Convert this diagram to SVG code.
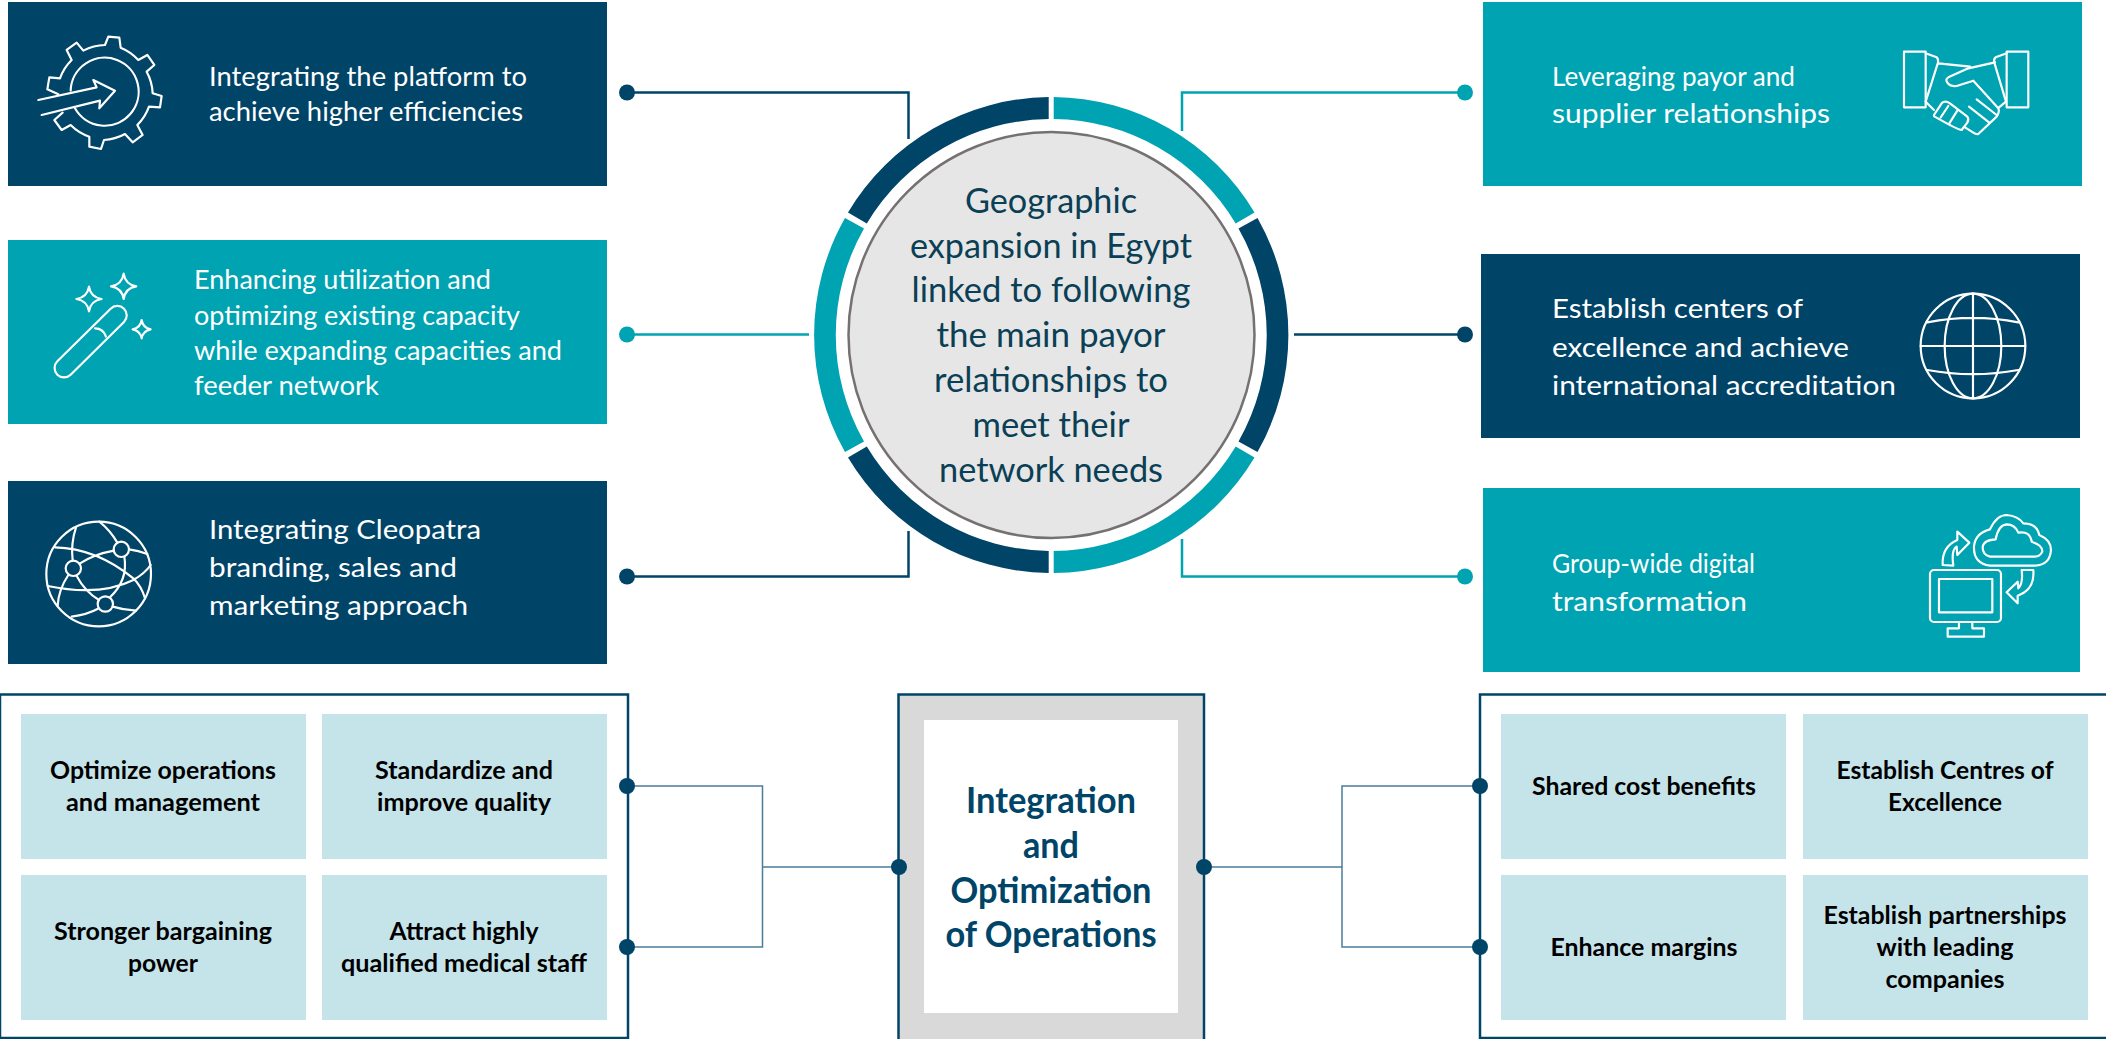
<svg xmlns="http://www.w3.org/2000/svg" width="2106" height="1039" viewBox="0 0 2106 1039">
<style>
text{font-family:"Lato","Liberation Sans",sans-serif}
.d{fill:#004468}.t{fill:#00A3B1}.l{fill:#C5E4EA}
.w{fill:#fff;font-size:27.5px}
.b{fill:#000;font-size:25px;font-weight:700;text-anchor:middle}
.c{fill:#0A3F55;font-size:35px;text-anchor:middle}
.h{fill:#004468;font-size:36px;font-weight:700;text-anchor:middle}
.i{fill:none;stroke:#fff;stroke-width:6.5;stroke-linejoin:round;stroke-linecap:round}
.cd{fill:none;stroke:#004468;stroke-width:2.5}
.ct{fill:none;stroke:#00A3B1;stroke-width:2.5}
.cb{fill:none;stroke:#4A7D9A;stroke-width:1.5}
.p{fill:#fff;stroke:#004468;stroke-width:2.5}
</style>
<g id="connectors">
<path class="cd" d="M627 92.5H908.5V139"/>
<path class="cd" d="M627 576.5H908.5V531"/>
<path class="ct" d="M627 334.5H809"/>
<path class="cd" d="M1294 334.5H1465"/>
<path class="ct" d="M1465 92.5H1182V131"/>
<path class="ct" d="M1465 576.5H1182V539"/>
</g>
<g id="node-platform">
<rect class="d" x="8" y="2" width="599" height="184"/>
<g class="i" transform="scale(.3333)">
<path d="M175 283L142 268L148 232L180 235A145 145 0 0 1 215 180L200 150L230 128L250 152A145 145 0 0 1 315 135L325 110L358 113L362 143A145 145 0 0 1 415 180L442 165L463 195L440 215A145 145 0 0 1 458 280L485 288L480 322L447 320A145 145 0 0 1 412 375L428 405L398 427L375 402A145 145 0 0 1 312 420L303 447L268 440L268 410A145 145 0 0 1 212 375L185 390L163 360L188 338"/>
<path d="M212 272A102 102 0 1 1 225 325"/>
<path d="M115 300L290 262L280 240L345 272L298 325L300 302L125 345"/>
</g>
<text class="w" x="209" y="86" textLength="318" lengthAdjust="spacingAndGlyphs">Integrating the platform to</text>
<text class="w" x="209" y="121" textLength="314" lengthAdjust="spacingAndGlyphs">achieve higher efficiencies</text>
</g>
<g id="node-utilization">
<rect class="t" x="8" y="240" width="599" height="184"/>
<g class="i" transform="translate(0 240) scale(.3333)">
<path d="M172 364L332 206A28 28 0 0 1 372 246L212 404A28 28 0 0 1 172 364Z"/>
<path d="M285 265Q310 265 318 290"/>
<path d="M267 140Q272 172 305 177Q272 182 267 214Q262 182 229 177Q262 172 267 140Z"/>
<path d="M371 101Q376 134 409 139Q376 144 371 177Q366 144 333 139Q366 134 371 101Z"/>
<path d="M425 240Q429 264 452 268Q429 272 425 295Q421 272 398 268Q421 264 425 240Z"/>
</g>
<text class="w" x="194" y="289" textLength="297" lengthAdjust="spacingAndGlyphs">Enhancing utilization and</text>
<text class="w" x="194" y="325" textLength="326" lengthAdjust="spacingAndGlyphs">optimizing existing capacity</text>
<text class="w" x="194" y="360" textLength="368" lengthAdjust="spacingAndGlyphs">while expanding capacities and</text>
<text class="w" x="194" y="395" textLength="185" lengthAdjust="spacingAndGlyphs">feeder network</text>
</g>
<g id="node-branding">
<rect class="d" x="8" y="481" width="599" height="183"/>
<g class="i" transform="translate(0 480) scale(.3333)">
<circle cx="296" cy="282" r="157"/>
<circle cx="364" cy="208" r="23"/><circle cx="220" cy="265" r="23"/><circle cx="316" cy="372" r="23"/>
<path d="M298 125Q330 150 352 188M228 142Q212 190 218 242M165 202Q290 205 400 295Q425 320 435 355M387 208Q415 212 442 222M342 212Q285 222 240 250M373 230Q385 300 330 352M230 288Q255 335 297 360M205 285Q175 330 173 378M143 318Q300 350 400 300Q435 280 452 255M215 410Q260 405 297 385M338 380Q370 390 408 392"/>
</g>
<text class="w" x="209" y="539" textLength="272" lengthAdjust="spacingAndGlyphs">Integrating Cleopatra</text>
<text class="w" x="209" y="577" textLength="248" lengthAdjust="spacingAndGlyphs">branding, sales and</text>
<text class="w" x="209" y="615" textLength="259" lengthAdjust="spacingAndGlyphs">marketing approach</text>
</g>
<g id="node-payor">
<rect class="t" x="1483" y="2" width="599" height="184"/>
<g class="i" transform="translate(1850 20) scale(.3333)">
<rect x="162" y="95" width="65" height="167"/><rect x="470" y="95" width="65" height="167"/>
<path d="M227 100L260 112Q266 118 264 128L227 245L252 270M470 100L437 112Q430 118 433 128L468 245L447 262M265 130L360 140"/>
<path d="M435 127L355 145L295 172Q285 178 292 188Q300 200 320 198L370 182L445 265Q450 275 440 290L385 342Q380 345 370 338L345 322"/>
<path d="M252 285L275 250Q285 240 300 250L352 290Q358 298 352 308L335 330Q325 330 258 292Q250 290 252 285Z"/>
<path d="M295 258L272 292M322 272L298 310M380 238L440 285M357 260L418 308"/>
</g>
<text class="w" x="1552" y="86" textLength="243" lengthAdjust="spacingAndGlyphs">Leveraging payor and</text>
<text class="w" x="1552" y="123" textLength="278" lengthAdjust="spacingAndGlyphs">supplier relationships</text>
</g>
<g id="node-centers">
<rect class="d" x="1481" y="254" width="599" height="184"/>
<g class="i" transform="translate(1850 270) scale(.3333)">
<circle cx="369" cy="228" r="157"/>
<ellipse cx="369" cy="228" rx="85" ry="157"/>
<path d="M369 71V385M212 228H526M232 157Q369 130 505 157M232 300Q369 325 505 300"/>
</g>
<text class="w" x="1552" y="318" textLength="251" lengthAdjust="spacingAndGlyphs">Establish centers of</text>
<text class="w" x="1552" y="357" textLength="297" lengthAdjust="spacingAndGlyphs">excellence and achieve</text>
<text class="w" x="1552" y="395" textLength="344" lengthAdjust="spacingAndGlyphs">international accreditation</text>
</g>
<g id="node-digital">
<rect class="t" x="1483" y="488" width="597" height="184"/>
<g class="i" transform="translate(1850 490) scale(.3333)">
<rect x="240" y="240" width="213" height="156" rx="12"/>
<rect x="267" y="267" width="160" height="100"/>
<path d="M327 396V415H293V440H402V415H367V396"/>
<path d="M420 118Q440 75 470 75Q505 78 520 100Q560 100 568 135Q603 150 603 180Q600 225 555 227H420Q370 220 372 170Q375 130 420 118Z"/>
<path d="M437 148Q445 105 470 103Q495 103 505 128Q540 122 545 155Q578 165 577 185Q570 200 555 200H420Q398 195 398 172Q400 150 437 148Z"/>
<path d="M278 225Q275 170 322 150L322 125L358 158L322 195L320 170Q303 180 310 227Z"/>
<path d="M550 240Q555 300 503 317L503 340L470 307L503 275L505 295Q520 280 515 240Z"/>
</g>
<text class="w" x="1552" y="573" textLength="203" lengthAdjust="spacingAndGlyphs">Group-wide digital</text>
<text class="w" x="1552" y="611" textLength="195" lengthAdjust="spacingAndGlyphs">transformation</text>
</g>
<g id="node-center">
<path class="d" d="M1048.7 97A237 237 0 0 0 848 212.5L866.8 223.5A215 215 0 0 1 1048.7 119Z"/>
<path class="t" d="M1053.7 97A237 237 0 0 1 1254.5 212.5L1235.7 223.5A215 215 0 0 0 1053.7 119Z"/>
<path class="t" d="M845 218A237 237 0 0 0 845 452L864 441.5A215 215 0 0 1 864 228.5Z"/>
<path class="d" d="M1257.5 218A237 237 0 0 1 1257.5 452L1238.5 441.5A215 215 0 0 0 1238.5 228.5Z"/>
<path class="d" d="M1048.7 573A237 237 0 0 1 848 457.5L866.8 446.5A215 215 0 0 0 1048.7 551Z"/>
<path class="t" d="M1053.7 573A237 237 0 0 0 1254.5 457.5L1235.7 446.5A215 215 0 0 1 1053.7 551Z"/>
<circle cx="1051.5" cy="335" r="203" fill="#E6E6E6" stroke="#767171" stroke-width="2.5"/>
<text class="c" x="1051" y="213" textLength="172" lengthAdjust="spacingAndGlyphs">Geographic</text>
<text class="c" x="1051" y="258" textLength="282" lengthAdjust="spacingAndGlyphs">expansion in Egypt</text>
<text class="c" x="1051" y="302" textLength="279" lengthAdjust="spacingAndGlyphs">linked to following</text>
<text class="c" x="1051" y="347" textLength="229" lengthAdjust="spacingAndGlyphs">the main payor</text>
<text class="c" x="1051" y="392" textLength="234" lengthAdjust="spacingAndGlyphs">relationships to</text>
<text class="c" x="1051" y="437" textLength="157" lengthAdjust="spacingAndGlyphs">meet their</text>
<text class="c" x="1051" y="482" textLength="224" lengthAdjust="spacingAndGlyphs">network needs</text>
</g>
<g id="bottom-connectors">
<path class="cb" d="M627 786H762.5V947H627M762.5 867H899"/>
<path class="cb" d="M1480 786H1342V947H1480M1342 867H1204"/>
</g>
<g id="node-left-panel">
<rect class="p" x="0" y="694.5" width="628" height="343.5"/>
<rect class="l" x="21" y="714" width="285" height="145"/>
<rect class="l" x="322" y="714" width="285" height="145"/>
<rect class="l" x="21" y="875" width="285" height="145"/>
<rect class="l" x="322" y="875" width="285" height="145"/>
<text class="b" x="163" y="779" textLength="226" lengthAdjust="spacingAndGlyphs">Optimize operations</text>
<text class="b" x="163" y="811" textLength="194" lengthAdjust="spacingAndGlyphs">and management</text>
<text class="b" x="464" y="779" textLength="178" lengthAdjust="spacingAndGlyphs">Standardize and</text>
<text class="b" x="464" y="811" textLength="174" lengthAdjust="spacingAndGlyphs">improve quality</text>
<text class="b" x="163" y="940" textLength="218" lengthAdjust="spacingAndGlyphs">Stronger bargaining</text>
<text class="b" x="163" y="972" textLength="70" lengthAdjust="spacingAndGlyphs">power</text>
<text class="b" x="464" y="940" textLength="149" lengthAdjust="spacingAndGlyphs">Attract highly</text>
<text class="b" x="464" y="972" textLength="246" lengthAdjust="spacingAndGlyphs">qualified medical staff</text>
</g>
<g id="node-integration">
<rect x="898.5" y="694.5" width="305.5" height="350" fill="#D9D9D9" stroke="#004468" stroke-width="2.5"/>
<rect x="924" y="720" width="254" height="293" fill="#fff"/>
<text class="h" x="1051" y="813" textLength="170" lengthAdjust="spacingAndGlyphs">Integration</text>
<text class="h" x="1051" y="858" textLength="56" lengthAdjust="spacingAndGlyphs">and</text>
<text class="h" x="1051" y="903" textLength="201" lengthAdjust="spacingAndGlyphs">Optimization</text>
<text class="h" x="1051" y="947" textLength="211" lengthAdjust="spacingAndGlyphs">of Operations</text>
</g>
<g id="node-right-panel">
<rect class="p" x="1480" y="694.5" width="640" height="343.5"/>
<rect class="l" x="1501" y="714" width="285" height="145"/>
<rect class="l" x="1803" y="714" width="285" height="145"/>
<rect class="l" x="1501" y="875" width="285" height="145"/>
<rect class="l" x="1803" y="875" width="285" height="145"/>
<text class="b" x="1644" y="795" textLength="224" lengthAdjust="spacingAndGlyphs">Shared cost benefits</text>
<text class="b" x="1945" y="779" textLength="217" lengthAdjust="spacingAndGlyphs">Establish Centres of</text>
<text class="b" x="1945" y="811" textLength="114" lengthAdjust="spacingAndGlyphs">Excellence</text>
<text class="b" x="1644" y="956" textLength="187" lengthAdjust="spacingAndGlyphs">Enhance margins</text>
<text class="b" x="1945" y="924" textLength="243" lengthAdjust="spacingAndGlyphs">Establish partnerships</text>
<text class="b" x="1945" y="956" textLength="137" lengthAdjust="spacingAndGlyphs">with leading</text>
<text class="b" x="1945" y="988" textLength="119" lengthAdjust="spacingAndGlyphs">companies</text>
</g>
<g id="connector-dots">
<circle class="d" cx="627" cy="92.5" r="8"/><circle class="d" cx="627" cy="576.5" r="8"/>
<circle class="t" cx="627" cy="334.5" r="8"/>
<circle class="t" cx="1465" cy="92.5" r="8"/><circle class="t" cx="1465" cy="576.5" r="8"/>
<circle class="d" cx="1465" cy="334.5" r="8"/>
<circle class="d" cx="627" cy="786" r="8"/><circle class="d" cx="627" cy="947" r="8"/>
<circle class="d" cx="899" cy="867" r="8"/><circle class="d" cx="1204" cy="867" r="8"/>
<circle class="d" cx="1480" cy="786" r="8"/><circle class="d" cx="1480" cy="947" r="8"/>
</g>
</svg>
